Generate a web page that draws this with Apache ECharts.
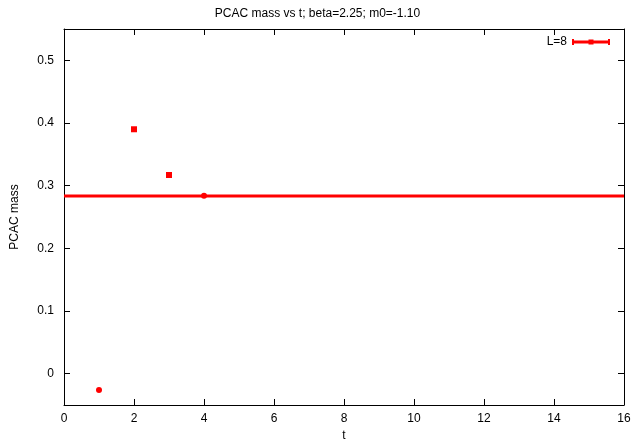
<!DOCTYPE html>
<html>
<head>
<meta charset="utf-8">
<script src="https://cdn.jsdelivr.net/npm/echarts@6/dist/echarts.min.js"></script>
<style>
  html, body { margin: 0; padding: 0; background: #fff; }
  #chart { width: 635px; height: 442px; }
</style>
</head>
<body>
<div id="chart"></div>
<script>
// PCAC mass per time slice, L=8
const tValues = [1, 2, 3, 4];
const massValues = [-0.026, 0.390, 0.317, 0.284];
const markShapes = ['circle', 'rect', 'rect', 'circle'];
const markSizes = [6, 6, 6, 6];
// plateau fit value and its t-range
const fitValue = 0.2835;
const fitRange = [0, 16];

const xTicks = { min: 0, max: 16, interval: 2 };
const yTicks = { min: -0.05, max: 0.55, labels: [0, 0.1, 0.2, 0.3, 0.4, 0.5] };

const FONT = '"Liberation Sans", Arial, sans-serif';
const RED = '#ff0000';

const chart = echarts.init(document.getElementById('chart'), null, { renderer: 'canvas' });

const axisCommon = {
  axisLine: { show: true, onZero: false, lineStyle: { color: '#000', width: 1 } },
  axisTick: { show: true, inside: true, length: 6, lineStyle: { color: '#000', width: 1 } },
  splitLine: { show: false },
};

const points = tValues.map((t, i) => ({
  value: [t, massValues[i]],
  symbol: markShapes[i],
  symbolSize: markSizes[i],
}));

chart.setOption({
  animation: false,
  backgroundColor: '#fff',
  textStyle: { fontFamily: FONT },
  title: {
    text: 'PCAC mass vs t; beta=2.25; m0=-1.10',
    left: 'center',
    top: 3,
    textStyle: { fontFamily: FONT, fontSize: 12, fontWeight: 'normal', color: '#000' },
  },
  grid: { left: 64, right: 11, top: 29, bottom: 37, containLabel: false, outerBoundsMode: 'none' },
  legend: {
    data: [{ name: 'L=8' }],
    right: 20,
    top: 31,
    align: 'right',
    itemWidth: 38,
    itemHeight: 6,
    icon: 'path://M0,1.5H38V4.5H0Z M0,0H2V6H0Z M36,0H38V6H36Z M16.5,0.5H21.5V5.5H16.5Z',
    itemStyle: { color: RED, opacity: 1 },
    textStyle: { fontFamily: FONT, fontSize: 12, color: '#000' },
  },
  xAxis: [
    Object.assign({}, axisCommon, {
      type: 'value', position: 'bottom',
      min: xTicks.min, max: xTicks.max, interval: xTicks.interval,
      name: 't', nameLocation: 'middle', nameGap: 23,
      nameTextStyle: { fontFamily: FONT, fontSize: 12, color: '#000' },
      axisLabel: { color: '#000', fontSize: 12, fontFamily: FONT, margin: 8 },
    }),
    Object.assign({}, axisCommon, {
      type: 'value', position: 'top',
      min: xTicks.min, max: xTicks.max, interval: xTicks.interval,
      axisLabel: { show: false },
    }),
  ],
  yAxis: [
    Object.assign({}, axisCommon, {
      type: 'value', position: 'left',
      min: yTicks.min, max: yTicks.max,
      name: 'PCAC mass', nameLocation: 'middle', nameGap: 43, nameRotate: 90,
      nameTextStyle: { fontFamily: FONT, fontSize: 12, color: '#000' },
      axisLabel: {
        color: '#000', fontSize: 12, fontFamily: FONT, margin: 10,
        customValues: yTicks.labels,
        formatter: v => String(Math.round(v * 10) / 10),
      },
      axisTick: Object.assign({}, axisCommon.axisTick, { customValues: yTicks.labels }),
    }),
    Object.assign({}, axisCommon, {
      type: 'value', position: 'right',
      min: yTicks.min, max: yTicks.max,
      axisLabel: { show: false, customValues: yTicks.labels },
      axisTick: Object.assign({}, axisCommon.axisTick, { customValues: yTicks.labels }),
    }),
  ],
  series: [
    {
      name: 'L=8',
      type: 'scatter',
      xAxisIndex: 0, yAxisIndex: 0,
      itemStyle: { color: RED, opacity: 1 },
      data: points,
      z: 3,
    },
    {
      name: 'fit',
      type: 'line',
      xAxisIndex: 0, yAxisIndex: 0,
      showSymbol: false,
      symbol: 'none',
      lineStyle: { color: RED, width: 3 },
      data: [[fitRange[0], fitValue], [fitRange[1], fitValue]],
      z: 2,
    },
  ],
});
</script>
</body>
</html>
